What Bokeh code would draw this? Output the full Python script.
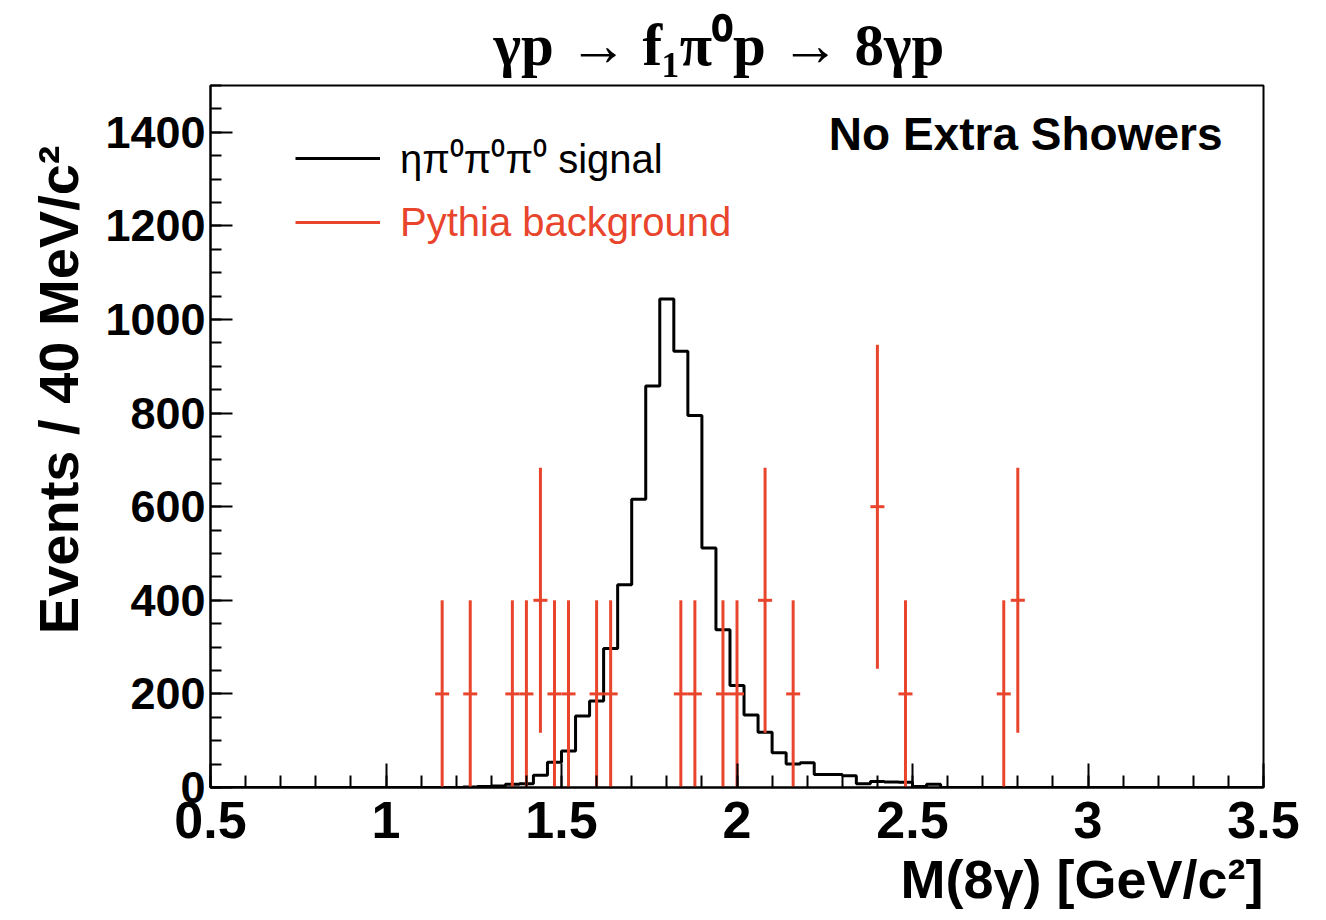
import numpy as np
from bokeh.plotting import figure
from bokeh.models import (Range1d, SingleIntervalTicker, CustomJSTickFormatter, Label,
                          Legend, LegendItem, ColumnDataSource, Title)
from bokeh.embed import file_html
from bokeh.resources import INLINE

# ---------------- data ----------------
x_lo, x_hi = 0.5, 3.5
bin_width = 0.04          # 40 MeV bins
# signal histogram (eta pi0 pi0 pi0), 75 bins from 0.5 to 3.5
signal = [0] * 18 + [
    1, 2, 3, 7, 8, 26, 54, 78, 153, 185, 297, 433, 616, 858, 1044, 932, 795, 512,
    337, 218, 155, 118, 74, 50, 53, 28, 28, 25, 8, 13, 12, 11, 2, 7,
] + [0] * 23

# Pythia background points (bin centres, content, error)
bkg_x = [1.16, 1.24, 1.36, 1.40, 1.44, 1.48, 1.52, 1.60, 1.64, 1.84,
         1.88, 1.96, 2.00, 2.08, 2.16, 2.40, 2.48, 2.76, 2.80]
bkg_y = [200, 200, 200, 200, 400, 200, 200, 200, 200, 200,
         200, 200, 200, 400, 200, 600, 200, 200, 400]
bkg_err = [200, 200, 200, 200, 283, 200, 200, 200, 200, 200,
           200, 200, 200, 283, 200, 346, 200, 200, 283]

title_text = "γp → f₁π⁰p → 8γp"
x_title = "M(8γ) [GeV/c²]"
y_title = "Events / 40 MeV/c²"
sig_label = "ηπ⁰π⁰π⁰ signal"
bkg_label = "Pythia background"
note_text = "No Extra Showers"

RED = "#E8452C"
SANS = "Liberation Sans"

# ---------------- figure ----------------
p = figure(width=1318, height=920, x_range=Range1d(x_lo, x_hi), y_range=Range1d(0, 1500),
           output_backend="svg", toolbar_location=None,
           min_border_left=210, min_border_right=55, min_border_top=85, min_border_bottom=133)
p.xgrid.visible = False
p.ygrid.visible = False
p.outline_line_color = "black"
p.outline_line_width = 2
p.background_fill_color = "white"
p.border_fill_color = "white"

# title
p.title.text = title_text
p.title.text_font = "Liberation Serif"
p.title.text_font_style = "bold"
p.title.text_font_size = "59px"
p.title.text_line_height = 1.0
p.title.align = "left"
p.title.offset = 283
p.title.standoff = 15
p.title.text_color = "black"

# signal histogram as steps
edges = x_lo + bin_width * np.arange(len(signal) + 1)
yvals = list(signal) + [signal[-1]]
r_sig = p.step(x=edges, y=yvals, mode="after", line_color="black", line_width=3)

# background error bars
bx = np.array(bkg_x)
by = np.array(bkg_y)
be = np.array(bkg_err)
src = ColumnDataSource(dict(x=bx, y=by, lo=by - be, hi=by + be,
                            xl=bx - bin_width / 2, xr=bx + bin_width / 2))
r_bkg = p.segment(x0="x", y0="lo", x1="x", y1="hi", source=src, line_color=RED, line_width=3)
p.segment(x0="xl", y0="y", x1="xr", y1="y", source=src, line_color=RED, line_width=3)

# axes
for ax in (p.xaxis[0], p.yaxis[0]):
    ax.axis_line_width = 2
    ax.axis_line_color = "black"
    ax.major_tick_out = 0
    ax.minor_tick_out = 0
    ax.major_tick_line_width = 2
    ax.minor_tick_line_width = 2
    ax.major_label_text_font = SANS
    ax.major_label_text_font_style = "bold"
    ax.major_label_text_color = "black"

p.xaxis.ticker = SingleIntervalTicker(interval=0.5, num_minor_ticks=5)
p.xaxis.major_tick_in = 24
p.xaxis.minor_tick_in = 12
p.xaxis.major_label_text_font_size = "52px"
p.xaxis.major_label_standoff = 14
p.xaxis.formatter = CustomJSTickFormatter(code="return String(Math.round(tick*10)/10);")

p.yaxis.ticker = SingleIntervalTicker(interval=200, num_minor_ticks=4)
p.yaxis.major_tick_in = 22
p.yaxis.minor_tick_in = 11
p.yaxis.major_label_text_font_size = "45px"
p.yaxis.major_label_standoff = 5

# axis titles as side-panel titles (right / top aligned like ROOT)
p.add_layout(Title(text=x_title, align="right", offset=0, standoff=12,
                   text_font=SANS, text_font_style="bold", text_font_size="54px",
                   text_line_height=1.0, text_color="black"), "below")
p.add_layout(Title(text=y_title, align="right", offset=60, standoff=25,
                   text_font=SANS, text_font_style="bold", text_font_size="56px",
                   text_line_height=1.0, text_color="black"), "left")

# note (screen units relative to the frame)
p.add_layout(Label(x=1012, y=654, x_units="screen", y_units="screen", text=note_text,
                   text_align="right", text_baseline="middle",
                   text_font=SANS, text_font_style="bold",
                   text_font_size="46px", text_color="black"))

# legends (one per entry so the text colours can differ)
def make_legend(label, rend, loc, color):
    return Legend(items=[LegendItem(label=label, renderers=[rend])], location=loc,
                  orientation="vertical", border_line_color=None, background_fill_alpha=0,
                  padding=0, margin=0, spacing=0, glyph_width=85, glyph_height=50,
                  label_height=50, label_standoff=20, label_text_font=SANS,
                  label_text_font_size="40px", label_text_color=color,
                  label_text_baseline="middle")

p.add_layout(make_legend(sig_label, r_sig, (85, 602), "black"))
p.add_layout(make_legend(bkg_label, r_bkg, (85, 540), RED))

open("out.html", "w").write(file_html(p, INLINE))
